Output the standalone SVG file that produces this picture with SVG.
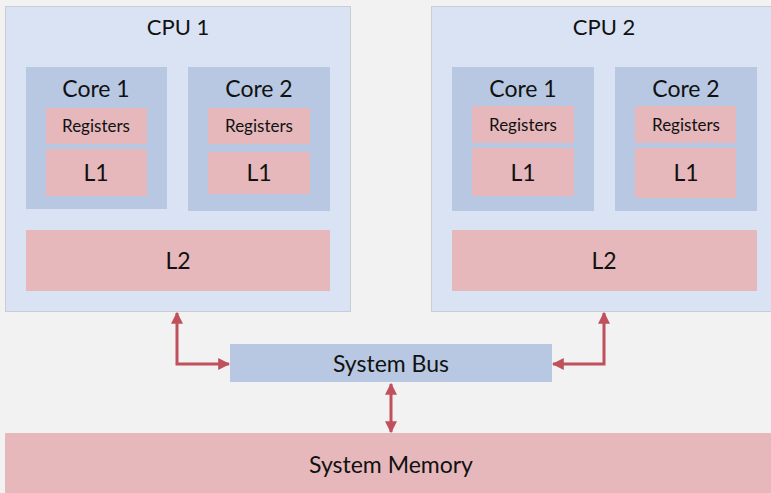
<svg xmlns="http://www.w3.org/2000/svg" width="771" height="493" viewBox="0 0 771 493">
<defs>
<style>
text{font-family:Lato,"Open Sans","Liberation Sans",sans-serif;fill:#111;text-anchor:middle}
.cpu{fill:#dae3f3;stroke:#c9ccd2;stroke-width:1}
.core{fill:#b8c8e3}
.mem{fill:#e6b8bb}
.big{font-size:23px}
.title{font-size:22px}
.small{font-size:17px}
.conn{fill:none;stroke:#c0505c;stroke-width:3}
</style>
<marker id="ah" viewBox="0 0 10 10" refX="9" refY="5" markerWidth="4" markerHeight="4" orient="auto-start-reverse" markerUnits="strokeWidth">
<path d="M0,0 L10,5 L0,10 z" fill="#c0505c"/>
</marker>
</defs>
<rect width="771" height="493" fill="#f2f2f2"/>
<g id="cpu1">
<rect class="cpu" x="5.5" y="6.5" width="345" height="305"/>
<text class="title" x="178" y="35">CPU 1</text>
</g>
<g id="cpu1-core1">
<rect class="core" x="26" y="67" width="141" height="142"/>
<text class="big" x="96" y="97">Core 1</text>
<rect class="mem" x="46" y="108" width="101" height="36"/>
<text class="small" x="96" y="132">Registers</text>
<rect class="mem" x="46" y="149" width="101" height="47"/>
<text class="big" x="96" y="181">L1</text>
</g>
<g id="cpu1-core2">
<rect class="core" x="188" y="67" width="142" height="144"/>
<text class="big" x="259" y="97">Core 2</text>
<rect class="mem" x="208" y="108" width="102" height="36"/>
<text class="small" x="259" y="132">Registers</text>
<rect class="mem" x="208" y="152" width="102" height="42"/>
<text class="big" x="259" y="181">L1</text>
</g>
<g id="cpu1-l2">
<rect class="mem" x="26" y="230" width="304" height="61"/>
<text class="big" x="178" y="269">L2</text>
</g>
<g id="cpu2">
<rect class="cpu" x="431.5" y="6.5" width="345" height="305"/>
<text class="title" x="604" y="35">CPU 2</text>
</g>
<g id="cpu2-core1">
<rect class="core" x="452" y="67" width="142" height="144"/>
<text class="big" x="523" y="97">Core 1</text>
<rect class="mem" x="472" y="106" width="102" height="37"/>
<text class="small" x="523" y="131">Registers</text>
<rect class="mem" x="472" y="148" width="102" height="48"/>
<text class="big" x="523" y="181">L1</text>
</g>
<g id="cpu2-core2">
<rect class="core" x="615" y="67" width="142" height="144"/>
<text class="big" x="686" y="97">Core 2</text>
<rect class="mem" x="635" y="106" width="101" height="37"/>
<text class="small" x="686" y="131">Registers</text>
<rect class="mem" x="635" y="148" width="101" height="50"/>
<text class="big" x="686" y="181">L1</text>
</g>
<g id="cpu2-l2">
<rect class="mem" x="452" y="230" width="305" height="61"/>
<text class="big" x="604" y="269">L2</text>
</g>
<g id="bus">
<rect class="core" x="230" y="344" width="322" height="38"/>
<text class="big" x="391" y="372">System Bus</text>
</g>
<g id="memory">
<rect class="mem" x="5" y="433" width="766" height="60"/>
<text class="big" x="391" y="473">System Memory</text>
</g>
<g id="connectors">
<path class="conn" d="M177,313 V364 H229" marker-start="url(#ah)" marker-end="url(#ah)"/>
<path class="conn" d="M604,313 V364 H553" marker-start="url(#ah)" marker-end="url(#ah)"/>
<path class="conn" d="M391,384 V432" marker-start="url(#ah)" marker-end="url(#ah)"/>
</g>
</svg>
